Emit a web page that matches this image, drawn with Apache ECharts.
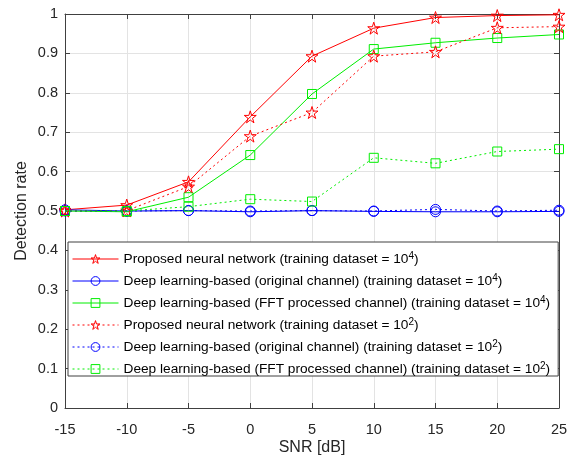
<!DOCTYPE html>
<html>
<head>
<meta charset="utf-8">
<script src="https://cdn.jsdelivr.net/npm/echarts@6/dist/echarts.min.js"></script>
<style>
  html, body { margin: 0; padding: 0; background: #fff; }
  #chart { width: 578px; height: 460px; }
</style>
</head>
<body>
<div id="chart"></div>
<script>
// SNR values (dB)
const snr = [-15, -10, -5, 0, 5, 10, 15, 20, 25];

// detection rate per method
const proposed4 = [0.503, 0.515, 0.574, 0.739, 0.893, 0.964, 0.991, 0.996, 0.998];
const original4 = [0.503, 0.500, 0.501, 0.498, 0.501, 0.499, 0.498, 0.498, 0.499];
const fft4 = [0.500, 0.498, 0.535, 0.642, 0.797, 0.911, 0.927, 0.939, 0.948];
const proposed2 = [0.500, 0.501, 0.562, 0.690, 0.750, 0.893, 0.904, 0.965, 0.968];
const original2 = [0.500, 0.500, 0.501, 0.500, 0.501, 0.500, 0.504, 0.500, 0.502];
const fft2 = [0.500, 0.500, 0.511, 0.530, 0.524, 0.635, 0.621, 0.651, 0.657];

const labels = [
  "Proposed neural network (training dataset = 10",
  "Deep learning-based (original channel) (training dataset = 10",
  "Deep learning-based (FFT processed channel) (training dataset = 10",
  "Proposed neural network (training dataset = 10",
  "Deep learning-based (original channel) (training dataset = 10",
  "Deep learning-based (FFT processed channel) (training dataset = 10"
];
const exps = ["4", "4", "4", "2", "2", "2"];

const yTicks = [0, 0.1, 0.2, 0.3, 0.4, 0.5, 0.6, 0.7, 0.8, 0.9, 1];

// hollow pentagram
const star = "path://M50 0 L61.23 34.55 L97.55 34.55 L68.16 55.9 L79.39 90.45 L50 69.1 L20.61 90.45 L31.84 55.9 L2.45 34.55 L38.77 34.55 Z";

const names = labels.map((l, i) => l + exps[i] + ")");

function mk(idx, data, color, symbol, size, dotted) {
  return {
    name: names[idx],
    type: "line",
    data: snr.map((x, i) => [x, data[i]]),
    symbol: symbol,
    symbolSize: size,
    showAllSymbol: true,
    lineStyle: { color: color, width: 1, type: dotted ? [2, 3] : "solid" },
    itemStyle: { color: "rgba(255,255,255,0)", borderColor: color, borderWidth: 1 },
    emphasis: { disabled: true },
    animation: false,
    z: 3 + idx
  };
}

const myChart = echarts.init(document.getElementById("chart"));

const axisCol = "#404040";
const txtCol = "#262626";
const font = "'Liberation Sans', Arial, sans-serif";

myChart.setOption({
  backgroundColor: "#fff",
  textStyle: { fontFamily: font },
  grid: { left: 65, right: 19, top: 14, bottom: 52, outerBoundsMode: "none", containLabel: false },
  xAxis: [
    {
      type: "value", min: -15, max: 25, interval: 5, position: "bottom",
      name: "SNR [dB]", nameLocation: "middle", nameGap: 32, nameMoveOverlap: false,
      nameTextStyle: { fontSize: 16, color: txtCol, fontFamily: font },
      axisLine: { onZero: false, lineStyle: { color: axisCol } },
      axisTick: { inside: true, length: 5, lineStyle: { color: axisCol } },
      axisLabel: { fontSize: 14.5, color: txtCol, margin: 14, fontFamily: font },
      splitLine: { show: true, lineStyle: { color: "#e3e3e3" } }
    },
    {
      type: "value", min: -15, max: 25, interval: 5, position: "top",
      axisLine: { onZero: false, lineStyle: { color: axisCol } },
      axisTick: { inside: true, length: 5, lineStyle: { color: axisCol } },
      axisLabel: { show: false },
      splitLine: { show: false }
    }
  ],
  yAxis: [
    {
      type: "value", min: 0, max: 1, interval: 0.1, position: "left",
      name: "Detection rate", nameLocation: "middle", nameGap: 35, nameMoveOverlap: false,
      nameTextStyle: { fontSize: 16, color: txtCol, fontFamily: font },
      axisLine: { show: true, onZero: false, lineStyle: { color: axisCol } },
      axisTick: { show: true, inside: true, length: 5, lineStyle: { color: axisCol } },
      axisLabel: {
        fontSize: 14.5, color: txtCol, margin: 7, fontFamily: font,
        formatter: v => String(yTicks[Math.round(v * 10)])
      },
      splitLine: { show: true, lineStyle: { color: "#e3e3e3" } }
    },
    {
      type: "value", min: 0, max: 1, interval: 0.1, position: "right",
      axisLine: { show: true, onZero: false, lineStyle: { color: axisCol } },
      axisTick: { show: true, inside: true, length: 5, lineStyle: { color: axisCol } },
      axisLabel: { show: false },
      splitLine: { show: false }
    }
  ],
  legend: {
    orient: "vertical",
    left: 68, top: 242,
    padding: [9, 8, 0, 4],
    itemWidth: 46, itemHeight: 11, itemGap: 7,
    backgroundColor: "#fff",
    borderColor: axisCol, borderWidth: 1,
    selectedMode: false,
    lineStyle: { width: 1 },
    itemStyle: { borderWidth: 1 },
    data: names,
    formatter: name => {
      const i = names.indexOf(name);
      return "{t|" + labels[i] + "}{s|" + exps[i] + "}{t|)}";
    },
    textStyle: {
      fontFamily: font,
      rich: {
        t: { fontSize: 13.7, lineHeight: 16, color: "#000", fontFamily: font },
        s: { fontSize: 10, lineHeight: 16, color: "#000", fontFamily: font, verticalAlign: "top" }
      }
    }
  },
  series: [
    mk(0, proposed4, "#ff0000", star, 12, false),
    mk(1, original4, "#0000ff", "circle", 10, false),
    mk(2, fft4, "#00ee00", "rect", 9, false),
    mk(3, proposed2, "#ff0000", star, 12, true),
    mk(4, original2, "#0000ff", "circle", 10, true),
    mk(5, fft2, "#00ee00", "rect", 9, true)
  ]
});
</script>
</body>
</html>
